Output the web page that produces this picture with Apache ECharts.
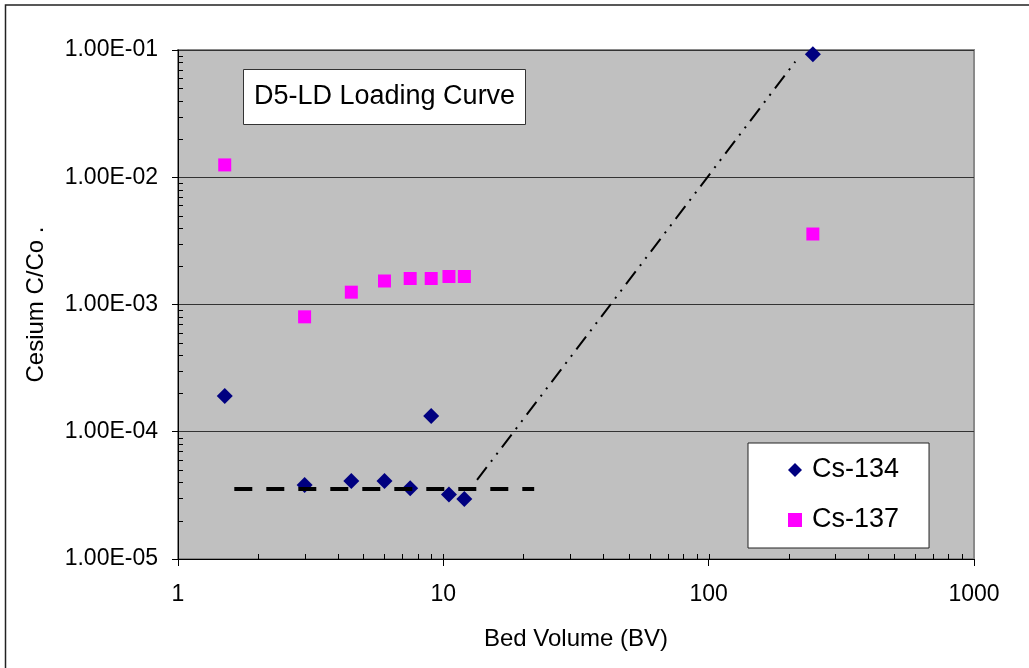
<!DOCTYPE html>
<html>
<head>
<meta charset="utf-8">
<script src="https://cdn.jsdelivr.net/npm/echarts@6/dist/echarts.min.js"></script>
<style>
html,body{margin:0;padding:0;background:#fff;}
#c{width:1029px;height:668px;}
</style>
</head>
<body>
<div id="c"></div>
<script>
// ---- data ----
const bedVolume = [1.5, 3, 4.5, 6, 7.5, 9, 10.5, 12, 247];
const cs134 = [1.91e-4, 3.82e-5, 4.1e-5, 4.1e-5, 3.6e-5, 1.33e-4, 3.22e-5, 2.96e-5, 9.25e-2];
const cs137 = [1.25e-2, 8.0e-4, 1.25e-3, 1.53e-3, 1.6e-3, 1.6e-3, 1.66e-3, 1.66e-3, 3.58e-3];
const baselineX = [1.63, 22];
const baselineY = [3.55e-5, 3.55e-5];
const trendX = [13.4, 212];
const trendY = [4.18e-5, 8.09e-2];
// axis tick positions
const xTickVals = [2,3,4,5,6,7,8,9,10,20,30,40,50,60,70,80,90,100,200,300,400,500,600,700,800,900];
const yTickVals = [2e-5,3e-5,4e-5,5e-5,6e-5,7e-5,8e-5,9e-5,
                   2e-4,3e-4,4e-4,5e-4,6e-4,7e-4,8e-4,9e-4,
                   2e-3,3e-3,4e-3,5e-3,6e-3,7e-3,8e-3,9e-3,
                   2e-2,3e-2,4e-2,5e-2,6e-2,7e-2,8e-2,9e-2];

const FONT = '"Liberation Sans", Arial, sans-serif';
const X_MIN = 1, X_MAX = 1000, Y_MIN = 1e-5, Y_MAX = 1e-1;

function expFmt(v) {
  const s = Number(v).toExponential(2).toUpperCase();
  const parts = s.split('E');
  let e = parseInt(parts[1], 10);
  const sign = e < 0 ? '-' : '+';
  e = Math.abs(e);
  return parts[0] + 'E' + sign + (e < 10 ? '0' + e : '' + e);
}
function plainFmt(v) {
  return String(Math.round(Number(v)));
}

const chart = echarts.init(document.getElementById('c'), null, {renderer: 'canvas'});
chart.setOption({
  animation: false,
  backgroundColor: '#ffffff',
  graphic: [{
    type: 'rect', silent: true, z: -10,
    shape: {x: 5.5, y: 5, width: 1100, height: 1100},
    style: {fill: 'none', stroke: '#222', lineWidth: 1.5}
  }],
  title: {
    text: 'D5-LD Loading Curve',
    left: 243, top: 69,
    backgroundColor: '#ffffff',
    borderColor: '#333', borderWidth: 1,
    padding: [14, 11, 14, 11],
    textStyle: {fontFamily: FONT, fontSize: 27, fontWeight: 'normal', color: '#000', lineHeight: 28}
  },
  legend: {
    data: ['Cs-134', 'Cs-137'],
    orient: 'vertical',
    left: 748, top: 443,
    backgroundColor: '#ffffff',
    borderColor: '#222', borderWidth: 1,
    padding: [12, 30, 13, 40],
    itemWidth: 14, itemHeight: 14,
    itemGap: 20,
    textStyle: {fontFamily: FONT, fontSize: 27, color: '#000', lineHeight: 30, padding: [0, 0, 0, 5]}
  },
  grid: {
    left: 178, right: 55, top: 50, bottom: 109,
    show: true, backgroundColor: '#C0C0C0',
    borderColor: '#8a8a8a', borderWidth: 2,
    containLabel: false,
    outerBoundsMode: 'none'
  },
  xAxis: {
    type: 'log', logBase: 10, min: X_MIN, max: X_MAX,
    name: 'Bed Volume (BV)', nameLocation: 'middle', nameGap: 68,
    nameTextStyle: {fontFamily: FONT, fontSize: 24, color: '#000'},
    axisLine: {show: true, onZero: false, lineStyle: {color: '#000', width: 1}},
    axisTick: {show: true, inside: false, length: 7, lineStyle: {color: '#000'}},
    axisLabel: {fontFamily: FONT, fontSize: 23, color: '#000', margin: 24, formatter: plainFmt},
    splitLine: {show: false},
    minorTick: {show: false}
  },
  yAxis: {
    type: 'log', logBase: 10, min: Y_MIN, max: Y_MAX,
    name: 'Cesium C/Co .', nameLocation: 'middle', nameGap: 130, nameRotate: 90,
    nameTextStyle: {fontFamily: FONT, fontSize: 24, color: '#000'},
    axisLine: {show: true, onZero: false, lineStyle: {color: '#000', width: 1}},
    axisTick: {show: true, inside: false, length: 6, lineStyle: {color: '#000'}},
    axisLabel: {fontFamily: FONT, fontSize: 23, color: '#000', margin: 20, formatter: expFmt},
    splitLine: {show: true, lineStyle: {color: '#333', width: 1}},
    minorTick: {show: false}
  },
  series: [
    {
      type: 'custom', silent: true, z: 1,
      data: xTickVals.map(v => [v, Y_MIN]),
      renderItem: function (params, api) {
        const p = api.coord([api.value(0), api.value(1)]);
        const x = Math.round(p[0]) + 0.5;
        return {type: 'line', shape: {x1: x, y1: p[1], x2: x, y2: p[1] - 5},
                style: {stroke: '#000', lineWidth: 1}};
      }
    },
    {
      type: 'custom', silent: true, z: 1,
      data: yTickVals.map(v => [X_MIN, v]),
      renderItem: function (params, api) {
        const p = api.coord([api.value(0), api.value(1)]);
        const y = Math.round(p[1]) + 0.5;
        return {type: 'line', shape: {x1: p[0], y1: y, x2: p[0] + 5, y2: y},
                style: {stroke: '#000', lineWidth: 1}};
      }
    },
    {
      name: 'Cs-134', type: 'scatter', z: 3,
      symbol: 'diamond', symbolSize: 16,
      itemStyle: {color: '#000080', opacity: 1},
      data: bedVolume.map((x, i) => [x, cs134[i]])
    },
    {
      name: 'Cs-137', type: 'scatter', z: 3,
      symbol: 'rect', symbolSize: 13,
      itemStyle: {color: '#FF00FF', opacity: 1},
      data: bedVolume.map((x, i) => [x, cs137[i]])
    },
    {
      name: 'baseline', type: 'line', z: 4, silent: true,
      symbol: 'none',
      lineStyle: {color: '#000', width: 4, type: [18, 14]},
      data: baselineX.map((x, i) => [x, baselineY[i]])
    },
    {
      name: 'trend', type: 'line', z: 4, silent: true,
      symbol: 'none',
      lineStyle: {color: '#000', width: 2, type: [16, 7, 2, 7, 2, 7]},
      data: trendX.map((x, i) => [x, trendY[i]])
    }
  ]
});
</script>
</body>
</html>
